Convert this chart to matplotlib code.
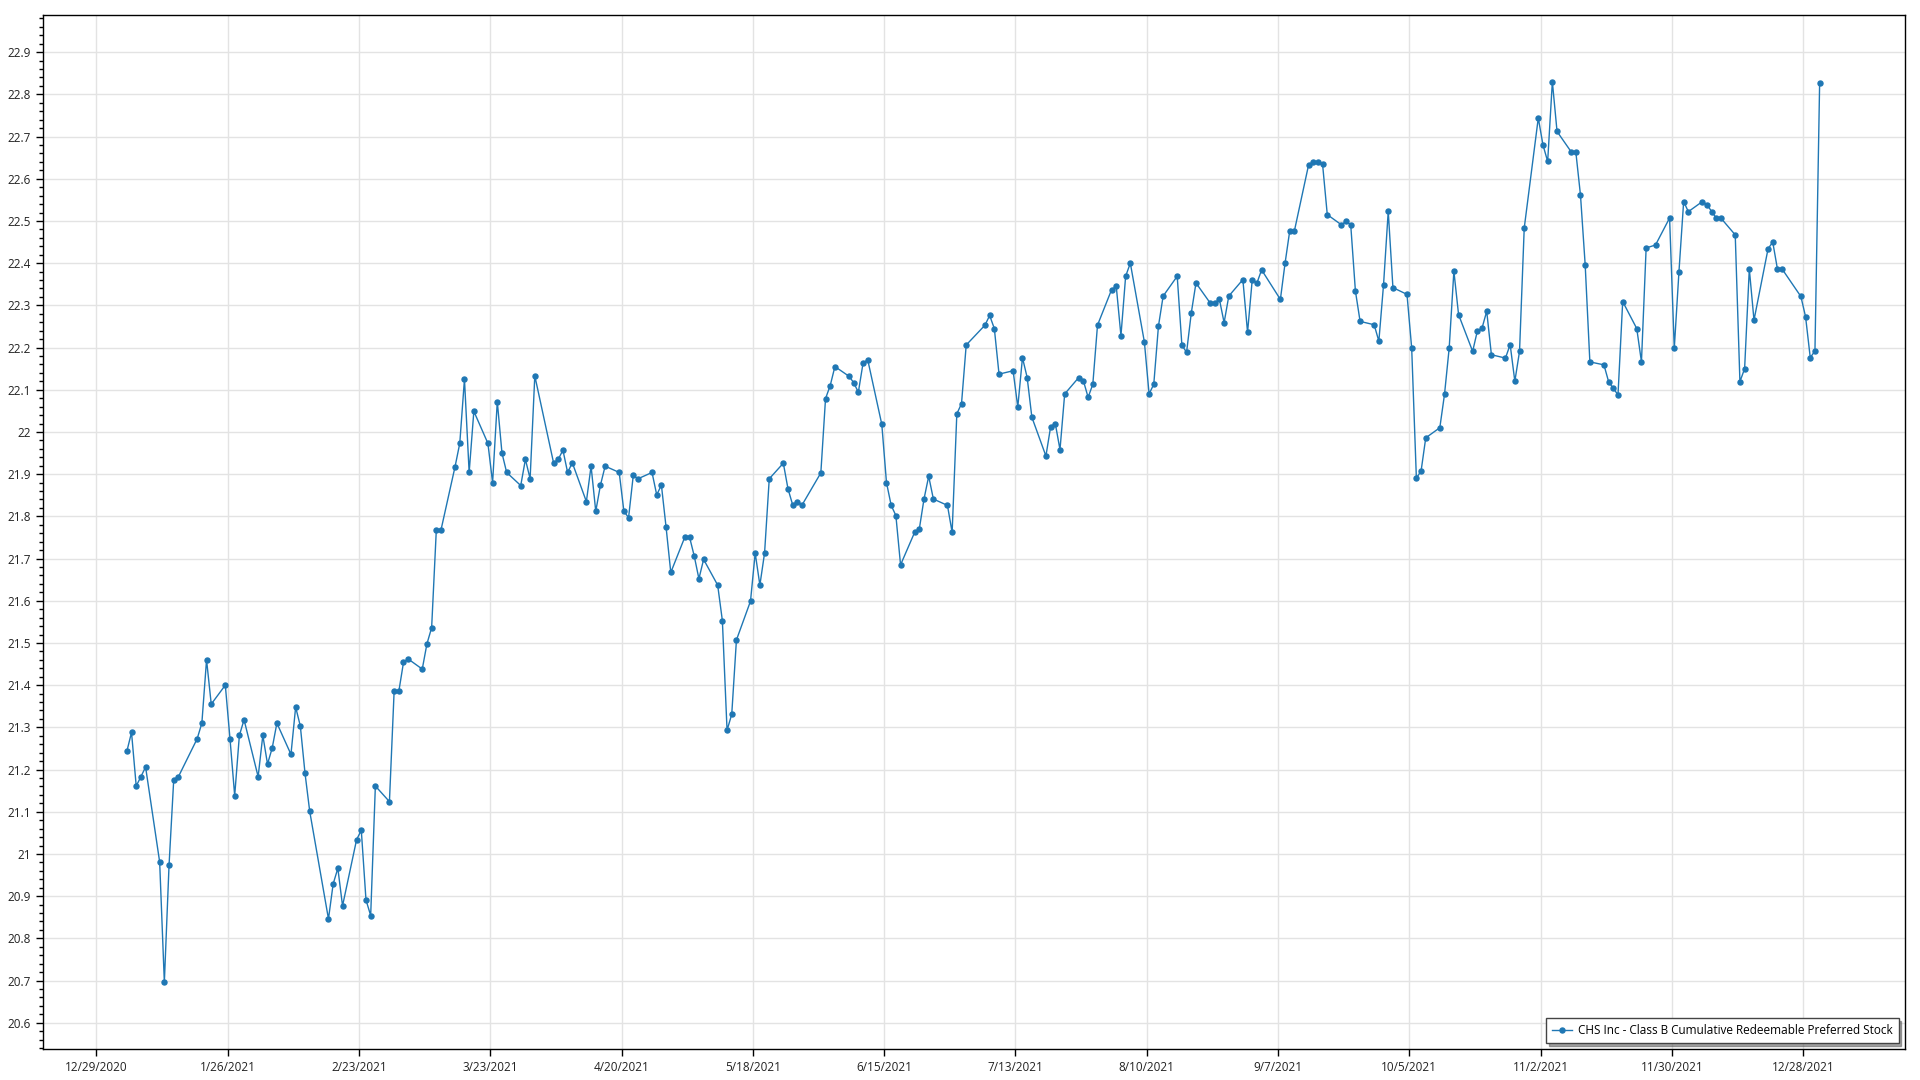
import numpy as np
import pandas as pd
import matplotlib
matplotlib.use("Agg")
import matplotlib.pyplot as plt
import matplotlib.dates as mdates
from matplotlib.ticker import MultipleLocator, FormatStrFormatter

# Closing prices, one list per month (trading days of 2021)
jan = [21.243, 21.288, 21.161, 21.183, 21.206, 20.981, 20.696, 20.973, 21.176, 21.183,
       21.273, 21.310, 21.460, 21.355, 21.400, 21.273, 21.138, 21.281, 21.318]
feb = [21.183, 21.281, 21.213, 21.251, 21.310, 21.236, 21.348, 21.303, 21.191, 21.101,
       20.846, 20.929, 20.966, 20.877, 21.034, 21.056, 20.891, 20.854, 21.161]
mar = [21.124, 21.385, 21.385, 21.454, 21.462, 21.438, 21.498, 21.536, 21.768, 21.768,
       21.918, 21.973, 22.125, 21.904, 22.049, 21.973, 21.880, 22.072, 21.950, 21.904,
       21.873, 21.935, 21.889]
apr = [22.133, 21.927, 21.935, 21.957, 21.904, 21.927, 21.835, 21.919, 21.812, 21.874,
       21.919, 21.904, 21.812, 21.797, 21.897, 21.889, 21.904, 21.851, 21.874, 21.774,
       21.667]
may = [21.751, 21.751, 21.706, 21.652, 21.698, 21.637, 21.553, 21.293, 21.331, 21.507,
       21.599, 21.713, 21.637, 21.713, 21.889, 21.926, 21.865, 21.827, 21.835, 21.827]
jun = [21.903, 22.079, 22.110, 22.155, 22.132, 22.117, 22.094, 22.163, 22.171, 22.018,
       21.880, 21.826, 21.802, 21.685, 21.762, 21.770, 21.841, 21.895, 21.841, 21.826,
       21.762, 22.043]
jul = [22.067, 22.206, 22.253, 22.276, 22.245, 22.137, 22.145, 22.059, 22.176, 22.129,
       22.035, 21.943, 22.012, 22.020, 21.958, 22.090, 22.129, 22.121, 22.082, 22.113,
       22.253]
aug = [22.337, 22.345, 22.228, 22.369, 22.400, 22.213, 22.090, 22.113, 22.251, 22.322,
       22.369, 22.205, 22.189, 22.282, 22.353, 22.306, 22.306, 22.314, 22.259, 22.322,
       22.361, 22.236]
sep = [22.361, 22.353, 22.384, 22.314, 22.400, 22.477, 22.477, 22.632, 22.640, 22.640,
       22.634, 22.515, 22.491, 22.499, 22.491, 22.334, 22.262, 22.254, 22.215, 22.349,
       22.523]
oct_ = [22.342, 22.326, 22.199, 21.891, 21.907, 21.986, 22.010, 22.089, 22.199, 22.381,
        22.278, 22.191, 22.239, 22.246, 22.286, 22.183, 22.175, 22.207, 22.120, 22.191,
        22.483]
nov = [22.744, 22.680, 22.641, 22.830, 22.712, 22.664, 22.664, 22.561, 22.396, 22.166,
       22.159, 22.119, 22.103, 22.088, 22.309, 22.245, 22.166, 22.436, 22.443, 22.507,
       22.198]
dec = [22.380, 22.546, 22.522, 22.546, 22.538, 22.522, 22.506, 22.506, 22.467, 22.119,
       22.150, 22.386, 22.265, 22.434, 22.450, 22.386, 22.386, 22.321, 22.273, 22.176,
       22.192, 22.828]

holidays = ["2021-01-18", "2021-02-15", "2021-04-02", "2021-05-31", "2021-07-05",
            "2021-09-06", "2021-11-25", "2021-12-24"]
series_name = "CHS Inc - Class B Cumulative Redeemable Preferred Stock"

tick_dates = ["2020-12-29", "2021-01-26", "2021-02-23", "2021-03-23", "2021-04-20",
              "2021-05-18", "2021-06-15", "2021-07-13", "2021-08-10", "2021-09-07",
              "2021-10-05", "2021-11-02", "2021-11-30", "2021-12-28"]
tick_labels = ["12/29/2020", "1/26/2021", "2/23/2021", "3/23/2021", "4/20/2021",
               "5/18/2021", "6/15/2021", "7/13/2021", "8/10/2021", "9/7/2021",
               "10/5/2021", "11/2/2021", "11/30/2021", "12/28/2021"]

prices = np.array(jan + feb + mar + apr + may + jun + jul + aug + sep + oct_ + nov + dec)
days = pd.bdate_range("2021-01-04", "2021-12-31", freq="C", holidays=holidays)
days = days + pd.Timedelta(hours=12)

plt.rcParams['font.family'] = ['Open Sans', 'DejaVu Sans']

fig = plt.figure(figsize=(19.2, 10.8), dpi=100)
ax = fig.add_axes([0.0222, 0.0284, 0.97, 0.9577])

ax.plot(days, prices, color="#1f77b4", lw=1.0, marker="o", ms=3.6, label=series_name)

ax.set_xlim(pd.Timestamp("2020-12-17 13:00"), pd.Timestamp("2022-01-18 17:00"))
ax.set_ylim(20.537, 22.988)

ax.set_xticks(mdates.date2num(pd.to_datetime(tick_dates)))
ax.set_xticklabels(tick_labels)
ax.yaxis.set_major_locator(MultipleLocator(0.1))
ax.yaxis.set_minor_locator(MultipleLocator(0.02))
ax.yaxis.set_major_formatter(FormatStrFormatter("%g"))

ax.grid(True, which="major", color="#e3e3e3", lw=1.0)
ax.set_axisbelow(True)
ax.tick_params(axis="both", which="major", labelsize=8.5, labelcolor="#222222",
               length=5, width=1, direction="out")
ax.tick_params(axis="y", which="minor", length=3, width=1)
for s in ax.spines.values():
    s.set_color("black")
    s.set_linewidth(1.0)

leg = ax.legend(loc="lower right", fontsize=8.5, fancybox=False, shadow=True,
                edgecolor="#444444", framealpha=1, borderaxespad=0.55,
                handlelength=1.7, handletextpad=0.5, borderpad=0.5)
leg.get_frame().set_linewidth(1.0)

fig.savefig("out.png", dpi=100)
